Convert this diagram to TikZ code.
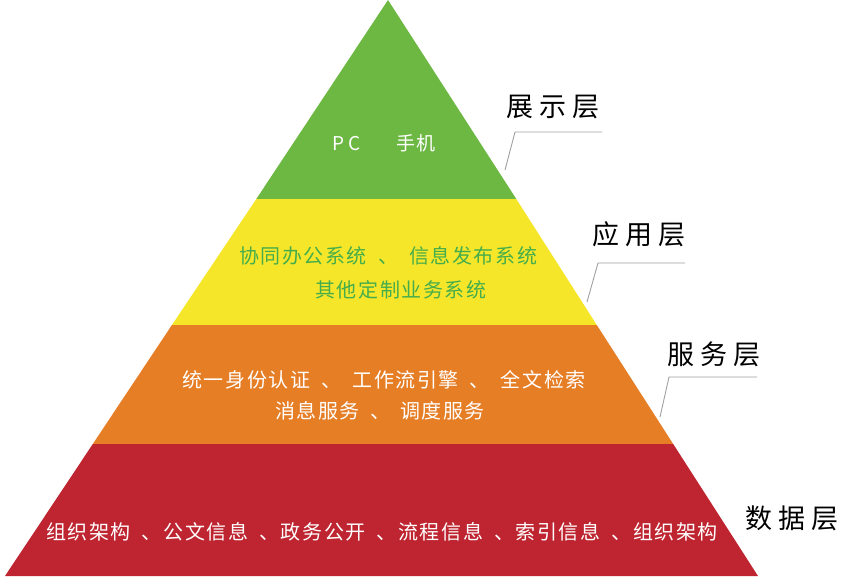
\documentclass[tikz,border=0pt]{standalone}
\usepackage{fontspec}
\setmainfont{Noto Sans CJK SC}
\newfontfamily\cjkspaced[LetterSpace=8]{Noto Sans CJK SC}
\newfontfamily\cjklabel{Noto Sans CJK SC}
\definecolor{lgreen}{HTML}{6CB843}
\definecolor{lyellow}{HTML}{F5E62A}
\definecolor{lorange}{HTML}{E67E26}
\definecolor{lred}{HTML}{BE2530}
\definecolor{tgreen}{HTML}{45AD4B}
\definecolor{leadgray}{HTML}{A0A0A0}
\tikzset{
  pctext/.style={font=\fontsize{19}{23}\selectfont, text=white, inner sep=0pt, align=center},
  intext/.style={font=\cjkspaced\fontsize{20}{24}\selectfont, text=white, inner sep=0pt, align=center},
  ytext/.style={intext, text=tgreen},
  layerlabel/.style={font=\cjklabel\fontsize{27}{30}\selectfont, text=black, inner sep=0pt},
  leader/.style={draw=leadgray, line width=0.9pt}
}
\begin{document}
\begin{tikzpicture}[x=1pt,y=-1pt]
\useasboundingbox (0,0) rectangle (853,576);
% pyramid bands
\fill[lgreen] (388,0) -- (516.3,199) -- (256.3,199) -- cycle;
\fill[lyellow] (256.3,199) -- (516.3,199) -- (596.8,325) -- (171.9,325) -- cycle;
\fill[lorange] (171.9,325) -- (596.8,325) -- (673.2,444) -- (92.8,444) -- cycle;
\fill[lred] (92.8,444) -- (673.2,444) -- (758,576) -- (5,576) -- cycle;
% inner texts
\node[pctext] (pc) at (384,143) {P\hspace{4pt}C\hspace{36pt}手\hspace{1pt}机};
\node[ytext] (app1) at (388,256) {协同办公系统\hspace{11pt}、\hspace{11pt}信息发布系统};
\node[ytext] (app2) at (401,290) {其他定制业务系统};
\node[intext] (svc1) at (384,380) {统一身份认证\hspace{11pt}、\hspace{11pt}工作流引擎\hspace{11pt}、\hspace{11pt}全文检索};
\node[intext] (svc2) at (380,411) {消息服务\hspace{10pt}、\hspace{10pt}调度服务};
\node[intext] (data1) at (382,532) {组织架构\hspace{11pt}、公文信息\hspace{11pt}、政务公开\hspace{11pt}、流程信息\hspace{11pt}、索引信息\hspace{11pt}、组织架构};
% labels
\node[layerlabel] (lab1) at (553,107) {展\hspace{6pt}示\hspace{6pt}层};
\node[layerlabel] (lab2) at (639,234) {应\hspace{6pt}用\hspace{6pt}层};
\node[layerlabel] (lab3) at (714,354) {服\hspace{6pt}务\hspace{6pt}层};
\node[layerlabel] (lab4) at (792,518) {数\hspace{6pt}据\hspace{6pt}层};
% leaders
\coordinate (l1a) at (505,170); \coordinate (l1b) at (515,132); \coordinate (l1c) at (602,132);
\coordinate (l2a) at (587,302); \coordinate (l2b) at (598,263); \coordinate (l2c) at (685,263);
\coordinate (l3a) at (660,417); \coordinate (l3b) at (669,377); \coordinate (l3c) at (757,377);
\draw[leader] (l1a) -- (l1b) -- (l1c);
\draw[leader] (l2a) -- (l2b) -- (l2c);
\draw[leader] (l3a) -- (l3b) -- (l3c);
\end{tikzpicture}
\end{document}
